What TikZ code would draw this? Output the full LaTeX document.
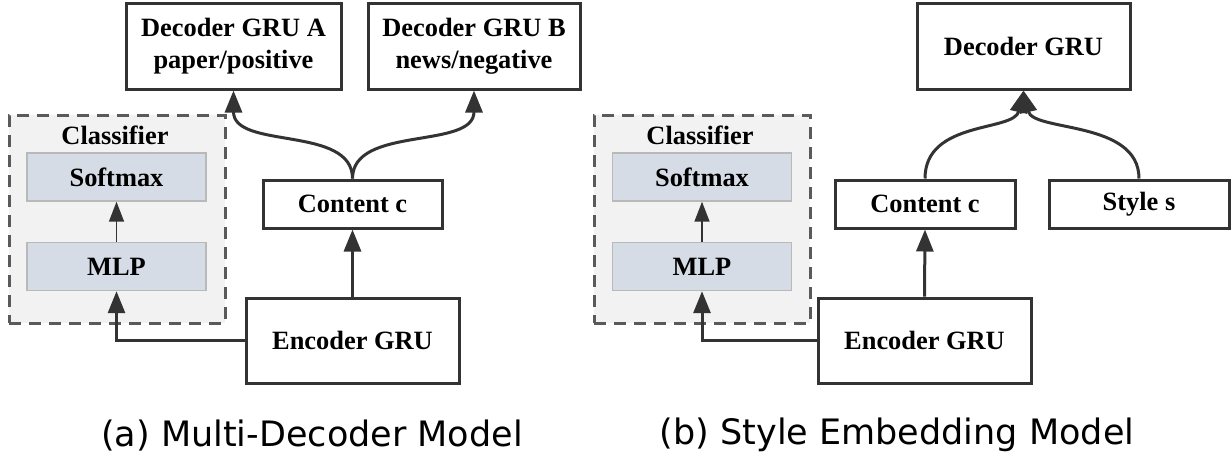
\documentclass[tikz,border=0pt]{standalone}
\usepackage{fontspec}
\setmainfont{Liberation Serif}
\newfontfamily\capfont{DejaVu Sans}
\usetikzlibrary{positioning}
\usetikzlibrary{arrows.meta}
\definecolor{linec}{HTML}{333333}
\definecolor{layerc}{HTML}{D6DCE6}
\definecolor{clsfill}{HTML}{F2F2F2}
\definecolor{dashc}{HTML}{5A5A5A}

\begin{document}
\begin{tikzpicture}[x=0.5pt, y=-0.5pt]
\pgfmathsetmacro{\YTOP}{46}
\pgfmathsetmacro{\YMID}{204}
\pgfmathsetmacro{\YENC}{340.5}

\tikzset{
  block/.style={draw=linec, line width=1.5pt, fill=white, rectangle, align=center,
  font=\fontsize{13.2}{16}\selectfont\bfseries, inner sep=0pt},
  layer/.style={draw=gray!55, line width=0.7pt, fill=layerc, rectangle, align=center,
  font=\fontsize{13.2}{16}\selectfont\bfseries, inner sep=0pt,
  minimum width=89.5pt, minimum height=24pt},
  clsbox/.style={draw=dashc, line width=1.5pt, fill=clsfill, rectangle,
  dash pattern=on 6pt off 4pt, minimum width=108pt, minimum height=104pt},
  arr/.style={draw=linec, line width=1.5pt, -{Triangle[length=11pt, width=8.5pt]}},
  thinarr/.style={draw=linec, line width=0.8pt, -{Triangle[length=10pt, width=7.5pt]}},
  caption/.style={font=\capfont\fontsize{17.5}{20}\selectfont, text=black},
}

\useasboundingbox (0,0) rectangle (1231,462);

% (a) multi-decoder model
\node[clsbox] (clsA) at (117, 219) {};
\node[font=\fontsize{13.2}{16}\selectfont\bfseries] (clsAlbl) at (115, 135) {Classifier};
\node[layer] (softA) at (116.5, 177) {Softmax};
\node[layer] (mlpA) at (116.5, 266.5) {MLP};
\node[block, minimum width=107.5pt, minimum height=43pt] (decA) at (233.5, \YTOP) {Decoder GRU A\\paper/positive};
\node[block, minimum width=106pt, minimum height=43pt] (decB) at (474, \YTOP) {Decoder GRU B\\news/negative};
\node[block, minimum width=89.5pt, minimum height=24pt] (contA) at (352.5, \YMID) {Content c};
\node[block, minimum width=106.5pt, minimum height=42.5pt] (encA) at (352.5, \YENC) {Encoder GRU};

\draw[arr] (encA.north) -- (contA.south);
\draw[arr] (encA.west) -| (mlpA.south);
\draw[thinarr] (mlpA.north) -- (softA.south);
\draw[arr] (contA.north) .. controls (352.5, 125) and (233.5, 150) .. (decA.south);
\draw[arr] (contA.north) .. controls (352.5, 125) and (474, 150) .. (decB.south);

\node[caption] (capA) at (312, 435) {(a) Multi-Decoder Model};

% (b) style embedding model
\node[clsbox] (clsB) at (702, 219) {};
\node[font=\fontsize{13.2}{16}\selectfont\bfseries] (clsBlbl) at (700, 135) {Classifier};
\node[layer] (softB) at (702, 177) {Softmax};
\node[layer] (mlpB) at (702, 266.5) {MLP};
\node[block, minimum width=106.5pt, minimum height=43pt] (decS) at (1023.5, \YTOP) {Decoder GRU};
\node[block, minimum width=90pt, minimum height=24pt] (contB) at (925, \YMID) {Content c};
\node[block, minimum width=90pt, minimum height=24pt] (styleB) at (1139, \YMID) {Style s};
\node[block, minimum width=106.5pt, minimum height=42.5pt] (encB) at (924.5, \YENC) {Encoder GRU};

\draw[arr] (encB.north) -- (contB.south);
\draw[arr] (encB.west) -| (mlpB.south);
\draw[thinarr] (mlpB.north) -- (softB.south);
\draw[arr] (contB.north) .. controls (925, 120) and (1014, 132) .. (decS.south);
\draw[arr] (styleB.north) .. controls (1139, 120) and (1033, 132) .. (decS.south);

\node[caption] (capB) at (897, 435) {(b) Style Embedding Model};
\end{tikzpicture}
\end{document}
